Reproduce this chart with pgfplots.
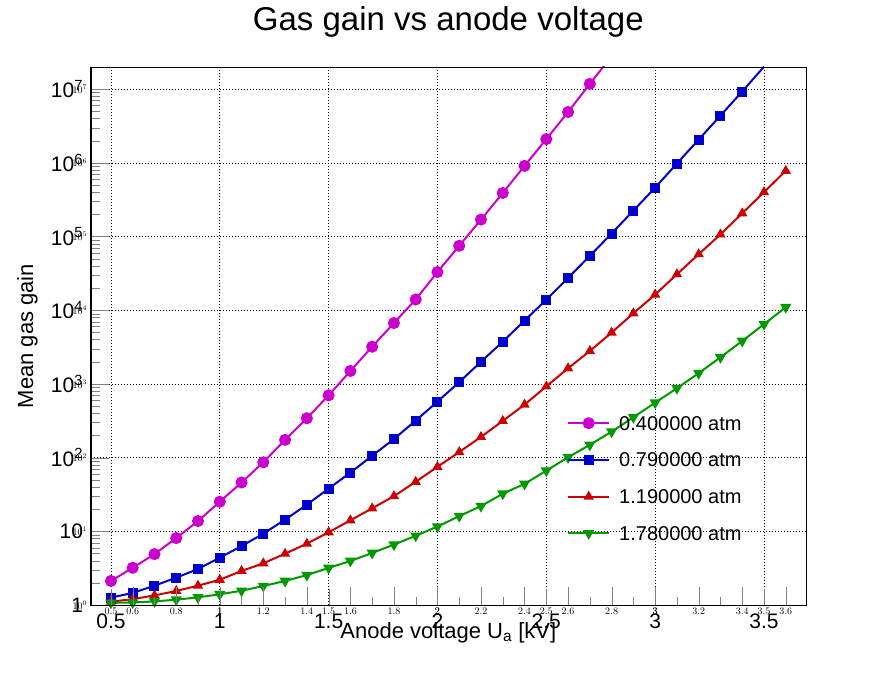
\documentclass[border=0pt]{standalone}
\usepackage{pgfplots}
\pgfplotsset{compat=1.18}
\usepackage{fontspec}
\setmainfont{Liberation Sans}
\definecolor{cmag}{RGB}{204,0,204}
\definecolor{cblue}{RGB}{0,0,204}
\definecolor{cred}{RGB}{204,0,0}
\definecolor{cgreen}{RGB}{0,153,0}
\begin{document}
\begin{tikzpicture}
\begin{axis}[
  at={(0pt,0pt)}, anchor=south west,
  scale only axis, width=715.3pt, height=538pt,
  xmin=0.407, xmax=3.693,
  ymode=log, log basis y=10, ymin=1, ymax=2e7,
  xtick distance=0.5,
  tick pos=left,
  /pgf/number format/assume math mode=true,
  log number format basis/.code 2 args={\pgfmathtruncatemacro{\myexp}{round(#2)}\ifnum\myexp=0 1\else\ifnum\myexp=1 10\else 10\textsuperscript{\myexp}\fi\fi},
  grid=major,
  major grid style={black, line width=0.7pt, dash pattern=on 1pt off 2pt},
  xticklabel style={anchor=base, yshift=-23pt, font=\fontsize{21}{25}\selectfont},
  yticklabel style={anchor=east, inner sep=0pt, xshift=-7.5pt, font=\fontsize{21}{25}\selectfont},
  xlabel={Anode voltage U\textsubscript{a} [kV]},
  xlabel style={at={(axis description cs:0.5,-0.062)}, anchor=base, inner sep=0pt, font=\fontsize{22}{26}\selectfont},
  ylabel={Mean gas gain},
  ylabel style={at={(axis description cs:-0.0805,0.5)}, anchor=base, inner sep=0pt, font=\fontsize{22}{26}\selectfont},
  title={Gas gain vs anode voltage},
  title style={at={(axis description cs:0.5,1)}, anchor=base, yshift=30pt, inner sep=0pt, font=\fontsize{33}{40}\selectfont},
  legend style={at={(axis description cs:0.6617,0.355)}, anchor=north west, draw=none, fill=none,
    font=\fontsize{20}{24}\selectfont, row sep=22.7pt,
    nodes={inner sep=0pt, text height=14pt, text depth=0pt},
    /tikz/every odd column/.append style={column sep=9pt}},
  legend cell align=left,
  legend image code/.code={\draw[mark repeat=2,mark phase=2,#1] plot coordinates {(0pt,0pt) (20.5pt,0pt) (41pt,0pt)};},
]
\addplot[cmag, line width=2pt, mark=*, mark size=5pt] coordinates {
(0.5,2.12) (0.6,3.2) (0.7,4.9) (0.8,8.1) (0.9,13.8) (1.0,25.2) (1.1,46) (1.2,86.5)
(1.3,174) (1.4,342) (1.5,700) (1.6,1500) (1.7,3200) (1.8,6700) (1.9,14000) (2.0,33000)
(2.1,75000) (2.2,170000) (2.3,390000) (2.4,910000) (2.5,2.1e6) (2.6,4.9e6) (2.7,1.18e7)};
\addlegendentry{0.400000 atm}
\addplot[cblue, line width=2pt, mark=square*, mark size=4pt] coordinates {
(0.5,1.26) (0.6,1.46) (0.7,1.83) (0.8,2.35) (0.9,3.08) (1.0,4.39) (1.1,6.3) (1.2,9.3)
(1.3,14.4) (1.4,23) (1.5,38) (1.6,62.5) (1.7,106) (1.8,179) (1.9,318) (2.0,575)
(2.1,1060) (2.2,2000) (2.3,3750) (2.4,7230) (2.5,13900) (2.6,27500) (2.7,54600) (2.8,110000)
(2.9,225000) (3.0,461000) (3.1,980000) (3.2,2.07e6) (3.3,4.38e6) (3.4,9.3e6)};
\addlegendentry{0.790000 atm}
\addplot[cred, line width=2pt, mark=triangle*, mark size=4pt] coordinates {
(0.5,1.11) (0.6,1.2) (0.7,1.35) (0.8,1.55) (0.9,1.83) (1.0,2.2) (1.1,2.9) (1.2,3.68)
(1.3,4.97) (1.4,6.8) (1.5,9.7) (1.6,14.1) (1.7,20.5) (1.8,30) (1.9,47) (2.0,75)
(2.1,119) (2.2,191) (2.3,315) (2.4,524) (2.5,925) (2.6,1630) (2.7,2800) (2.8,4970)
(2.9,9100) (3.0,16300) (3.1,30800) (3.2,57600) (3.3,107000) (3.4,207000) (3.5,400000) (3.6,780000)};
\addlegendentry{1.190000 atm}
\addplot[cgreen, line width=2pt, mark=triangle*, mark size=4.5pt, mark options={rotate=180}] coordinates {
(0.5,1.07) (0.6,1.08) (0.7,1.12) (0.8,1.18) (0.9,1.27) (1.0,1.40) (1.1,1.56) (1.2,1.81)
(1.3,2.12) (1.4,2.55) (1.5,3.18) (1.6,3.96) (1.7,5.08) (1.8,6.6) (1.9,8.7) (2.0,11.6)
(2.1,16.1) (2.2,22) (2.3,32.4) (2.4,44) (2.5,66.5) (2.6,101) (2.7,149) (2.8,225)
(2.9,353) (3.0,557) (3.1,874) (3.2,1400) (3.3,2300) (3.4,3830) (3.5,6460) (3.6,11000)};
\addlegendentry{1.780000 atm}
\addplot[cmag, line width=2pt, forget plot] coordinates {(2.7,1.18e7) (2.8,2.8e7)};
\addplot[cblue, line width=2pt, forget plot] coordinates {(3.4,9.3e6) (3.5,2.02e7)};
\end{axis}
\begin{axis}[
  at={(0pt,0pt)}, anchor=south west,
  scale only axis, width=715.3pt, height=538pt,
  xmin=0.407, xmax=3.693,
  ymode=log, ymin=1, ymax=2e7,
  tick align=inside, tick pos=left,
  major tick length=18pt, minor tick length=9pt,
  xticklabel={}, yticklabel={},
]
\addplot[draw=none, forget plot] coordinates {(1,10) (2,100)};
\end{axis}
\begin{axis}[
  at={(0pt,0pt)}, anchor=south west,
  scale only axis, width=715.3pt, height=538pt,
  xmin=0.407, xmax=3.693, ymin=0, ymax=1,
  xtick distance=0.5, minor x tick num=4, ytick=\empty,
  tick align=inside, tick pos=left,
  major tick length=16pt, minor tick length=8pt,
  xticklabel={},
]
\addplot[draw=none, forget plot] coordinates {(1,0.5) (2,0.6)};
\end{axis}
\pgfresetboundingbox
\path[use as bounding box] (-90.7pt,-67pt) rectangle (805.3pt,605pt);
\end{tikzpicture}
\end{document}
